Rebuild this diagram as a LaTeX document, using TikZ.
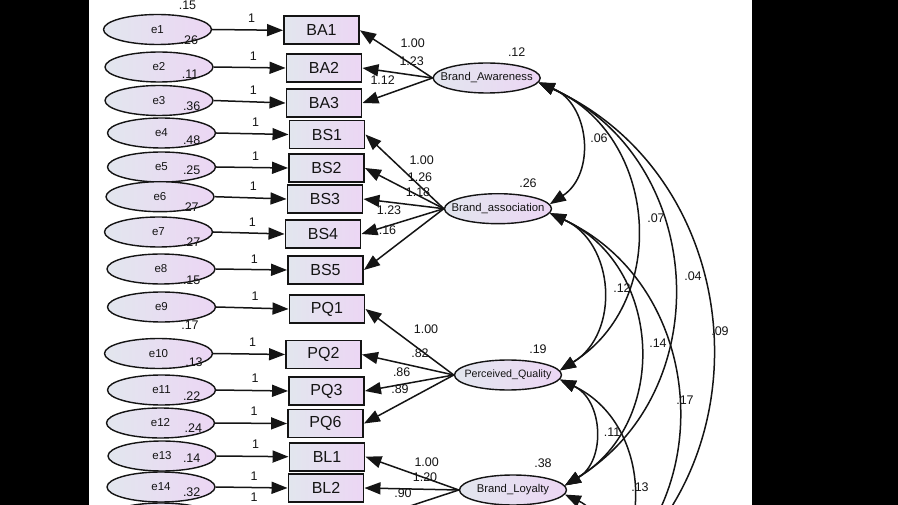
\documentclass[tikz,border=0pt]{standalone}
\usepackage{fontspec}
\setmainfont{Liberation Sans}
\usetikzlibrary{shapes.geometric,arrows.meta}
\definecolor{shL}{RGB}{226,230,238}
\definecolor{shR}{RGB}{236,214,244}
\definecolor{ink}{RGB}{20,20,20}
\begin{document}
\begin{tikzpicture}[x=1pt,y=1pt,
  errell/.style={ellipse, draw=ink, line width=1.4pt, left color=shL, right color=shR, minimum width=108pt, minimum height=30pt, inner sep=0pt, text=ink, font=\fontsize{11.5}{12}\selectfont},
  latell/.style={ellipse, draw=ink, line width=1.4pt, left color=shL, right color=shR, minimum width=107pt, minimum height=30pt, inner sep=0pt},
  lattxt/.style={inner sep=0pt, text=ink, font=\fontsize{11.3}{12}\selectfont},
  obsbox/.style={rectangle, draw=ink, line width=1.9pt, left color=shL, right color=shR, minimum width=75pt, minimum height=28pt, inner sep=0pt, text=ink, font=\fontsize{16}{18}\selectfont},
  num/.style={inner sep=0pt, text=ink, font=\fontsize{12.5}{13}\selectfont},
  arr/.style={line width=1.5pt, draw=ink, -{Triangle[length=16pt,width=12pt]}},
  cov/.style={line width=1.5pt, draw=ink, {Triangle[length=16pt,width=12pt]}-{Triangle[length=16pt,width=12pt]}, bend left=62, looseness=1.16},
]
\useasboundingbox (0,0) rectangle (898,-505);
\fill[white] (0,0) rectangle (898,-505);

% error ellipses
\node[errell] (e1) at (157.5,-29.5) {e1};
\node[errell] (e2) at (159,-67) {e2};
\node[errell] (e3) at (159,-100.5) {e3};
\node[errell] (e4) at (161.5,-133) {e4};
\node[errell] (e5) at (161.5,-167) {e5};
\node[errell] (e6) at (160,-196.7) {e6};
\node[errell] (e7) at (158.5,-232) {e7};
\node[errell] (e8) at (161,-269) {e8};
\node[errell] (e9) at (161.5,-307) {e9};
\node[errell] (e10) at (158.5,-353.5) {e10};
\node[errell] (e11) at (161.5,-390) {e11};
\node[errell] (e12) at (160.5,-423) {e12};
\node[errell] (e13) at (162,-456) {e13};
\node[errell] (e14) at (161,-487) {e14};
\node[errell] (e15) at (161,-518) {};

% observed boxes
\node[obsbox] (BA1) at (321.5,-30.3) {BA1};
\node[obsbox] (BA2) at (324,-68) {BA2};
\node[obsbox] (BA3) at (324,-103) {BA3};
\node[obsbox] (BS1) at (327,-134.5) {BS1};
\node[obsbox] (BS2) at (326.5,-168) {BS2};
\node[obsbox] (BS3) at (325,-199) {BS3};
\node[obsbox] (BS4) at (323,-234) {BS4};
\node[obsbox] (BS5) at (325.5,-270) {BS5};
\node[obsbox] (PQ1) at (327,-309) {PQ1};
\node[obsbox] (PQ2) at (323.5,-354.5) {PQ2};
\node[obsbox] (PQ3) at (326.5,-391) {PQ3};
\node[obsbox] (PQ6) at (325.5,-423.5) {PQ6};
\node[obsbox] (BL1) at (327,-456.7) {BL1};
\node[obsbox] (BL2) at (326,-488) {BL2};
\node[obsbox] (BL3) at (326,-521) {};

% latent ellipses
\node[latell] (BA) at (486.7,-78) {};
\node[lattxt] (BAt) at (BA) {Brand\_Awareness};
\node[latell] (BS) at (498,-208.7) {};
\node[lattxt] (BSt) at (BS) {Brand\_association};
\node[latell] (PQ) at (508,-375) {};
\node[lattxt, font=\fontsize{10.7}{12}\selectfont] (PQt) at (PQ) {Perceived\_Quality};
\node[latell] (BL) at (513,-490) {};
\node[lattxt] (BLt) at (BL) {Brand\_Loyalty};
\node[latell] (L5) at (518.5,-607) {};

% error variances
\node[num] (v1) at (187.5,-5.5) {.15};
\node[num] (v2) at (189.3,-40.7) {.26};
\node[num] (v3) at (190,-74) {.11};
\node[num] (v4) at (191.7,-106) {.36};
\node[num] (v5) at (191.7,-140) {.48};
\node[num] (v6) at (191.7,-170) {.25};
\node[num] (v7) at (190,-206.7) {.27};
\node[num] (v8) at (191.7,-241.7) {.27};
\node[num] (v9) at (191.7,-280) {.15};
\node[num] (v10) at (190,-325) {.17};
\node[num] (v11) at (194,-361.7) {.13};
\node[num] (v12) at (191.7,-396) {.22};
\node[num] (v13) at (193.3,-428.3) {.24};
\node[num] (v14) at (191.7,-458.3) {.14};
\node[num] (v15) at (191.7,-491.7) {.32};

% fixed 1 labels
\node[num] (o1) at (251.7,-18.3) {1};
\node[num] (o2) at (253.3,-56.7) {1};
\node[num] (o3) at (253.3,-90.7) {1};
\node[num] (o4) at (255.7,-122.7) {1};
\node[num] (o5) at (255.7,-156.7) {1};
\node[num] (o6) at (253.3,-186.7) {1};
\node[num] (o7) at (252.3,-222.3) {1};
\node[num] (o8) at (254.3,-259) {1};
\node[num] (o9) at (255,-296.7) {1};
\node[num] (o10) at (252.7,-342.7) {1};
\node[num] (o11) at (255,-378.3) {1};
\node[num] (o12) at (254,-411.7) {1};
\node[num] (o13) at (255.7,-444) {1};
\node[num] (o14) at (254,-476) {1};
\node[num] (o15) at (254,-497.5) {1};

% latent variances
\node[num] (vBA) at (516.7,-51.7) {.12};
\node[num] (vBS) at (528,-182.7) {.26};
\node[num] (vPQ) at (538,-349) {.19};
\node[num] (vBL) at (543,-463) {.38};

% loadings
\node[num] (l1) at (412.7,-42.7) {1.00};
\node[num] (l2) at (411.7,-61) {1.23};
\node[num] (l3) at (382.7,-80) {1.12};
\node[num] (l4) at (421.7,-160) {1.00};
\node[num] (l5) at (420,-176.7) {1.26};
\node[num] (l6) at (418,-192) {1.18};
\node[num] (l7) at (389,-210) {1.23};
\node[num] (l8) at (384,-230) {1.16};
\node[num] (l9) at (426,-329) {1.00};
\node[num] (l10) at (420,-352.7) {.82};
\node[num] (l11) at (401.7,-371.7) {.86};
\node[num] (l12) at (400,-389) {.89};
\node[num] (l13) at (426.7,-461.7) {1.00};
\node[num] (l14) at (425,-476.7) {1.20};
\node[num] (l15) at (403,-493) {.90};

% covariance labels
\node[num] (c1) at (599,-138) {.06};
\node[num] (c2) at (656,-218) {.07};
\node[num] (c3) at (693,-276) {.04};
\node[num] (c4) at (720,-331) {.09};
\node[num] (c5) at (622,-288) {.12};
\node[num] (c6) at (658,-343) {.14};
\node[num] (c7) at (685,-400) {.17};
\node[num] (c8) at (612,-432) {.11};
\node[num] (c9) at (640,-487) {.13};

% error arrows
\foreach \i/\b in {1/BA1,2/BA2,3/BA3,4/BS1,5/BS2,6/BS3,7/BS4,8/BS5,9/PQ1,10/PQ2,11/PQ3,12/PQ6,13/BL1,14/BL2,15/BL3}
  \draw[arr] (e\i.east) -- (\b.west);

% loadings arrows
\foreach \b in {BA1,BA2,BA3} \draw[arr] (BA.west) -- (\b.east);
\foreach \b in {BS1,BS2,BS3,BS4,BS5} \draw[arr] (BS.west) -- (\b.east);
\foreach \b in {PQ1,PQ2,PQ3,PQ6} \draw[arr] (PQ.west) -- (\b.east);
\foreach \b in {BL1,BL2,BL3} \draw[arr] (BL.west) -- (\b.east);

% covariances
\draw[cov] (BA.-5) to (BS.5);
\draw[cov] (BA.-5) to (PQ.5);
\draw[cov] (BA.-5) to (BL.5);
\draw[cov] (BA.-5) to (L5.5);
\draw[cov] (BS.-5) to (PQ.5);
\draw[cov] (BS.-5) to (BL.5);
\draw[cov] (BS.-5) to (L5.5);
\draw[cov] (PQ.-5) to (BL.5);
\draw[cov] (PQ.-5) to (L5.5);
\draw[cov] (BL.-5) to (L5.5);

% black side bars
\fill[black] (0,0) rectangle (89,-505);
\fill[black] (752,0) rectangle (898,-505);
\end{tikzpicture}
\end{document}
